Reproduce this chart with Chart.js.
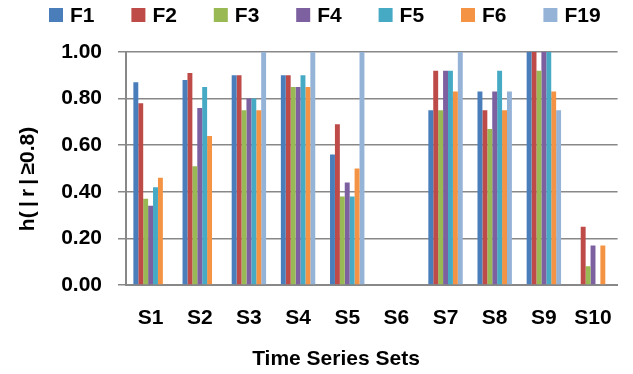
<!DOCTYPE html>
<html>
<head>
<meta charset="utf-8">
<script src="https://cdn.jsdelivr.net/npm/chart.js@4"></script>
<style>
  html, body { margin: 0; padding: 0; background: #fff; }
  #wrap { width: 633px; height: 374px; }
</style>
</head>
<body>
<div id="wrap"><canvas id="c" width="633" height="374"></canvas></div>
<script>
// Time series sets on the category axis
const categories = ['S1', 'S2', 'S3', 'S4', 'S5', 'S6', 'S7', 'S8', 'S9', 'S10'];

// h(|r| >= 0.8) per feature
const f1  = [0.87, 0.88, 0.90, 0.90, 0.56, 0, 0.75, 0.83, 1.00, 0];
const f2  = [0.78, 0.91, 0.90, 0.90, 0.69, 0, 0.92, 0.75, 1.00, 0.25];
const f3  = [0.37, 0.51, 0.75, 0.85, 0.38, 0, 0.75, 0.67, 0.92, 0.08];
const f4  = [0.34, 0.76, 0.80, 0.85, 0.44, 0, 0.92, 0.83, 1.00, 0.17];
const f5  = [0.42, 0.85, 0.80, 0.90, 0.38, 0, 0.92, 0.92, 1.00, 0];
const f6  = [0.46, 0.64, 0.75, 0.85, 0.50, 0, 0.83, 0.75, 0.83, 0.17];
const f19 = [0, 0, 1.00, 1.00, 1.00, 0, 1.00, 0.83, 0.75, 0];

const seriesNames = ['F1', 'F2', 'F3', 'F4', 'F5', 'F6', 'F19'];
const seriesValues = [f1, f2, f3, f4, f5, f6, f19];
const seriesColors = ['#4A7EBB', '#BE4B48', '#98B954', '#7D60A0', '#46AAC5', '#F39343', '#95B3D7'];

const yTicks = [0, 0.2, 0.4, 0.6, 0.8, 1.0];

const FONT = '"Liberation Sans", Arial, sans-serif';
const AXIS_GRAY = '#888888';

// Legend row across the top, evenly spaced like an office chart legend
const topLegend = {
  id: 'topLegend',
  afterDraw(chart) {
    const ctx = chart.ctx;
    ctx.save();
    ctx.font = 'bold 21px ' + FONT;
    ctx.textBaseline = 'middle';
    ctx.textAlign = 'left';
    chart.data.datasets.forEach((ds, i) => {
      const x = 49 + i * 82.4;
      ctx.fillStyle = ds.backgroundColor;
      ctx.fillRect(x, 8, 14, 14);
      ctx.fillStyle = '#000';
      ctx.fillText(ds.label, x + 21, 16);
    });
    ctx.restore();
  }
};

// Axis titles
const axisTitles = {
  id: 'axisTitles',
  afterDraw(chart) {
    const ctx = chart.ctx;
    ctx.save();
    ctx.fillStyle = '#000';
    ctx.font = 'bold 21px ' + FONT;
    ctx.textAlign = 'center';
    ctx.textBaseline = 'middle';
    ctx.fillText('Time Series Sets', 336, 359);
    ctx.translate(28, 179);
    ctx.rotate(-Math.PI / 2);
    ctx.fillText('h(\u2009|\u2009r\u2009|\u2009\u22650.8)', 0, 0);
    ctx.restore();
  }
};

new Chart(document.getElementById('c'), {
  type: 'bar',
  data: {
    labels: categories,
    datasets: seriesNames.map((name, i) => ({
      label: name,
      data: seriesValues[i],
      backgroundColor: seriesColors[i],
      borderWidth: 0,
      categoryPercentage: 0.7,
      barPercentage: 1.0
    }))
  },
  options: {
    responsive: false,
    animation: false,
    layout: { padding: { top: 52, right: 6, left: 0, bottom: 0 } },
    plugins: {
      legend: { display: false },
      tooltip: { enabled: false }
    },
    scales: {
      x: {
        grid: { display: false, drawTicks: false },
        border: { display: true, color: AXIS_GRAY, width: 2 },
        ticks: {
          color: '#000',
          font: { family: FONT, size: 21, weight: 'bold' },
          padding: 21,
          maxRotation: 0,
          autoSkip: false
        },
        afterFit(scale) { scale.height = 89; }
      },
      y: {
        min: 0,
        max: 1,
        afterBuildTicks(scale) { scale.ticks = yTicks.map(v => ({ value: v })); },
        grid: { color: AXIS_GRAY, lineWidth: 1.5, drawTicks: true, tickLength: 8, tickColor: AXIS_GRAY },
        border: { display: true, color: AXIS_GRAY, width: 2 },
        ticks: {
          color: '#000',
          font: { family: FONT, size: 21, weight: 'bold' },
          padding: 16,
          callback: v => Number(v).toFixed(2)
        },
        afterFit(scale) { scale.width = 126; }
      }
    }
  },
  plugins: [topLegend, axisTitles]
});
</script>
</body>
</html>
